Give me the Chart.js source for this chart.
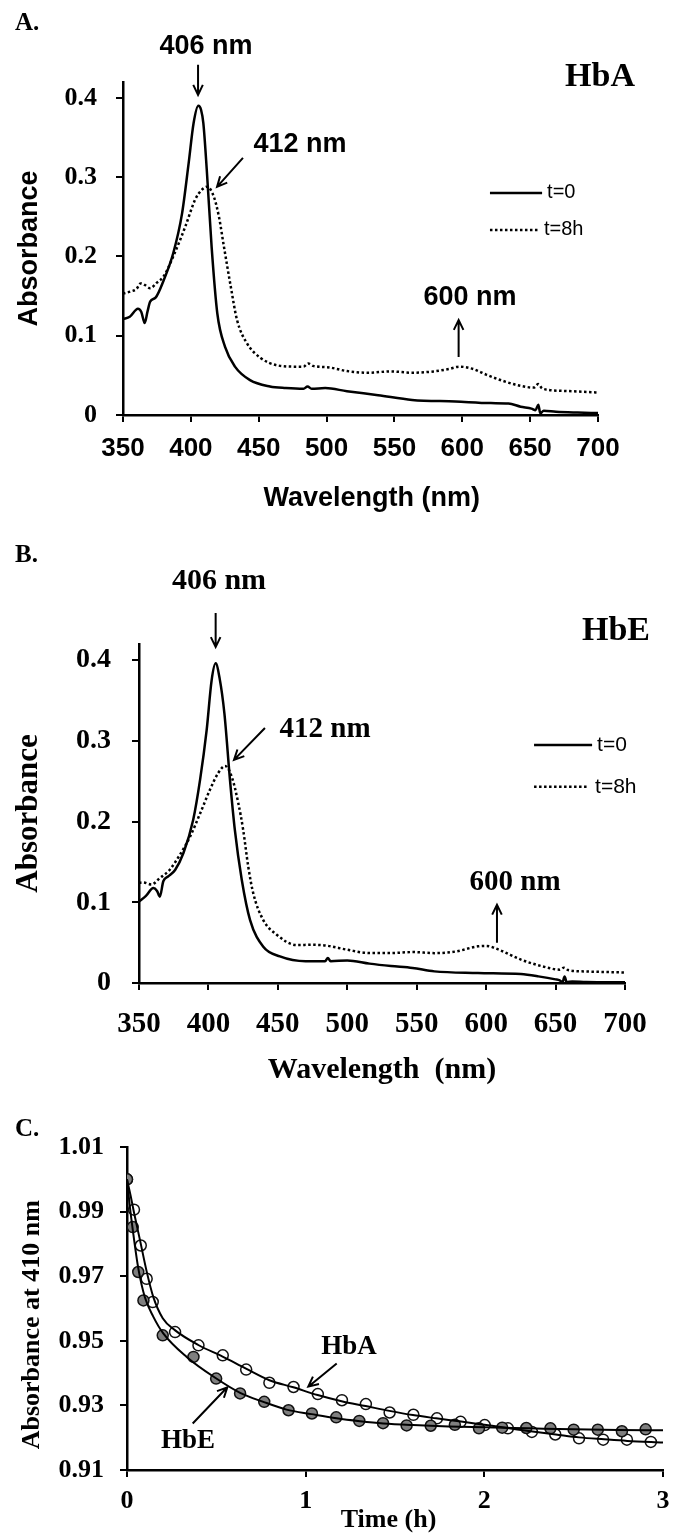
<!DOCTYPE html>
<html>
<head>
<meta charset="utf-8">
<script src="https://cdn.jsdelivr.net/npm/chart.js@4.4.0/dist/chart.umd.min.js"></script>
<style>
  body { margin: 0; background: #fff; }
  #wrap { position: relative; width: 683px; height: 1536px; }
  canvas { position: absolute; left: 0; }
</style>
</head>
<body>
<div id="wrap">
  <canvas id="chartA" width="683" height="520" style="top:0px"></canvas>
  <canvas id="chartB" width="683" height="570" style="top:520px"></canvas>
  <canvas id="chartC" width="683" height="446" style="top:1090px"></canvas>
</div>
<script>
// --------------------- DATA ---------------------
// A. HbA spectra
const hbaT0Wl  = [350,355,361,363.5,366,368,370,374,380,387,393.5,398.4,402,405.5,407.5,409.2,411.7,415.3,419.5,425.2,432.5,443.6,458.3,470,483,486,489,499,515,538,563,595,621,634,643,651,654,656,657.5,660,669,685,700];
const hbaT0Abs = [0.121,0.124,0.134,0.130,0.116,0.130,0.143,0.148,0.170,0.204,0.254,0.318,0.368,0.390,0.385,0.368,0.310,0.212,0.128,0.086,0.061,0.044,0.036,0.034,0.033,0.036,0.033,0.034,0.030,0.025,0.019,0.017,0.015,0.0145,0.0105,0.008,0.006,0.013,0.002,0.0055,0.004,0.003,0.0025];
const hbaT8Wl  = [350,356,360,363,366,370,375,380,388.5,396,403,408,412,417,420.7,424.4,429.4,434,441.5,451.4,464,478,483,486.5,490,502,515,531,547,563,579,590,598,608,617.5,630,643,652.7,656,659,675,700];
const hbaT8Abs = [0.153,0.156,0.159,0.166,0.164,0.160,0.167,0.175,0.206,0.238,0.271,0.284,0.288,0.275,0.250,0.212,0.162,0.120,0.090,0.072,0.0625,0.061,0.061,0.065,0.062,0.060,0.0554,0.0533,0.055,0.0533,0.055,0.058,0.061,0.058,0.051,0.043,0.0367,0.0346,0.039,0.0333,0.0304,0.0283];

// B. HbE spectra
const hbeT0Wl  = [350,355,360.3,363,365,367.5,371,376,382,389,394,398.7,402.3,405.2,408,411.5,415.5,419,424,430,439.5,451.5,470,484,486,488,500,516,531.5,547,562.7,594,625,637.6,650,653,655,656.5,658,662,672,700];
const hbeT0Abs = [0.101,0.108,0.1176,0.114,0.107,0.126,0.132,0.140,0.161,0.202,0.252,0.313,0.375,0.396,0.378,0.334,0.252,0.190,0.128,0.078,0.045,0.033,0.027,0.027,0.031,0.027,0.028,0.024,0.021,0.0186,0.0144,0.0124,0.011,0.0082,0.0045,0.0033,0.001,0.008,0.001,0.002,0.0012,0.0008];
const hbeT8Wl  = [350,353,359,365,372,379.5,386.7,394,401,407,412,416.7,421.5,425,428.7,432.3,439.5,449,463.5,475,485,500,516,531.5,547,563,578,594,600,609.5,625,640.7,653,656,659,672,700];
const hbeT8Abs = [0.124,0.1245,0.122,0.130,0.140,0.159,0.181,0.210,0.239,0.260,0.269,0.256,0.223,0.190,0.144,0.111,0.078,0.060,0.047,0.0474,0.0463,0.0412,0.0371,0.0371,0.0383,0.037,0.039,0.0454,0.046,0.041,0.029,0.0206,0.0165,0.019,0.016,0.0143,0.013];

// C. absorbance at 410 nm vs time
const hbaTime = [0,0.039,0.077,0.110,0.144,0.269,0.40,0.536,0.667,0.797,0.932,1.068,1.203,1.337,1.47,1.603,1.735,1.867,2.002,2.132,2.266,2.397,2.53,2.665,2.798,2.932];
const hbaAbs  = [1.000,0.9906,0.9795,0.9692,0.962,0.9527,0.9486,0.9455,0.9411,0.937,0.9357,0.9335,0.9316,0.9304,0.9278,0.9271,0.926,0.9249,0.9239,0.9229,0.9218,0.921,0.9198,0.9194,0.9194,0.9187];
const hbeTime = [0,0.032,0.063,0.092,0.2,0.372,0.499,0.633,0.768,0.904,1.035,1.171,1.30,1.433,1.565,1.70,1.835,1.97,2.10,2.235,2.37,2.50,2.635,2.77,2.903];
const hbeAbs  = [1.000,0.9852,0.9713,0.9625,0.9517,0.945,0.9383,0.9337,0.9311,0.9285,0.9275,0.9263,0.9252,0.9245,0.9238,0.9237,0.924,0.9229,0.9231,0.923,0.9229,0.9225,0.9225,0.922,0.9226];

// fitted curves
const hbaFitTime = [0,0.02,0.04,0.073,0.11,0.147,0.2,0.268,0.399,0.535,0.666,0.797,0.931,1.067,1.201,1.336,1.469,1.6,1.73,1.87,2.0,2.13,2.27,2.4,2.53,2.67,2.8,3.0];
const hbaFitAbs  = [1.000,0.995,0.9895,0.9811,0.9715,0.9636,0.957,0.9533,0.9487,0.9451,0.9414,0.9378,0.9356,0.9332,0.9313,0.9298,0.9283,0.927,0.926,0.925,0.924,0.923,0.9219,0.921,0.9201,0.9195,0.919,0.9185];
const hbeFitTime = [0,0.015,0.032,0.063,0.1,0.147,0.203,0.334,0.498,0.633,0.763,0.893,1.033,1.173,1.304,1.434,1.6,1.8,2.0,2.25,2.5,2.75,3.0];
const hbeFitAbs  = [1.000,0.992,0.9845,0.9725,0.9635,0.9575,0.9523,0.945,0.9384,0.9339,0.9311,0.9287,0.9273,0.926,0.9251,0.9244,0.9239,0.9235,0.9232,0.9229,0.9226,0.9224,0.9223];

const seriesLabels = ["t=0", "t=8h"];

// --------------------- HELPERS ---------------------
const SANS = "'Liberation Sans', Arial, sans-serif";
const SERIF = "'Liberation Serif', 'Times New Roman', serif";

function pairs(xs, ys) {
  return xs.map((x, i) => ({ x: x, y: ys[i] }));
}

// draws texts, arrows and the small legends on top of the chart
const panelText = {
  id: "panelText",
  afterDraw(chart, args, opts) {
    const ctx = chart.ctx;
    const sx = chart.scales.x, sy = chart.scales.y;
    const P = (p) => [sx.getPixelForValue(p[0]), sy.getPixelForValue(p[1])];
    ctx.save();
    ctx.fillStyle = "#000";
    ctx.strokeStyle = "#000";
    (opts.items || []).forEach((it) => {
      if (it.kind === "text") {
        const xy = it.px ? it.px : P(it.at);
        ctx.font = it.font;
        ctx.textAlign = it.align || "center";
        ctx.textBaseline = "middle";
        ctx.fillText(it.text, xy[0], xy[1]);
      } else if (it.kind === "arrow") {
        const a = P(it.from), b = P(it.to);
        ctx.lineWidth = 2;
        ctx.setLineDash([]);
        ctx.beginPath();
        ctx.moveTo(a[0], a[1]);
        ctx.lineTo(b[0], b[1]);
        const ang = Math.atan2(b[1] - a[1], b[0] - a[0]);
        const hl = 11, hw = 0.45;
        ctx.moveTo(b[0] - hl * Math.cos(ang - hw), b[1] - hl * Math.sin(ang - hw));
        ctx.lineTo(b[0], b[1]);
        ctx.lineTo(b[0] - hl * Math.cos(ang + hw), b[1] - hl * Math.sin(ang + hw));
        ctx.stroke();
      } else if (it.kind === "legend") {
        const ds = chart.data.datasets[it.dataset];
        const a = P(it.from), b = P(it.to);
        ctx.lineWidth = ds.borderWidth;
        ctx.setLineDash(ds.borderDash || []);
        ctx.beginPath();
        ctx.moveTo(a[0], a[1]);
        ctx.lineTo(b[0], a[1]);
        ctx.stroke();
        ctx.setLineDash([]);
        ctx.font = it.font;
        ctx.textAlign = "left";
        ctx.textBaseline = "middle";
        ctx.fillText(ds.label, b[0] + it.gap, a[1]);
      }
    });
    ctx.restore();
  }
};

function fixedBox(width, height) {
  return function (scale) {
    if (width !== undefined) scale.width = width;
    if (height !== undefined) scale.height = height;
  };
}

// --------------------- A. HbA ---------------------
new Chart(document.getElementById("chartA"), {
  type: "line",
  data: {
    datasets: [
      {
        label: seriesLabels[0],
        data: pairs(hbaT0Wl, hbaT0Abs),
        borderColor: "#000",
        borderWidth: 2.5,
        pointRadius: 0,
        cubicInterpolationMode: "monotone",
      },
      {
        label: seriesLabels[1],
        data: pairs(hbaT8Wl, hbaT8Abs),
        borderColor: "#000",
        borderWidth: 2.5,
        borderDash: [2.5, 2.5],
        pointRadius: 0,
        cubicInterpolationMode: "monotone",
      },
    ],
  },
  options: {
    responsive: false,
    animation: false,
    layout: { padding: { left: 0, top: 82, right: 85, bottom: 0 } },
    plugins: {
      legend: { display: false },
      tooltip: { enabled: false },
      panelText: {
        items: [
          { kind: "text", px: [15, 24], text: "A.", font: "bold 25px " + SERIF, align: "left" },
          { kind: "text", at: [411.2, 0.4644], text: "406 nm", font: "bold 27px " + SANS },
          { kind: "arrow", from: [405.3, 0.4416], to: [405.3, 0.4038] },
          { kind: "text", at: [701.5, 0.4265], text: "HbA", font: "bold 34px " + SERIF },
          { kind: "text", at: [480.4, 0.3407], text: "412 nm", font: "bold 27px " + SANS },
          { kind: "arrow", from: [438.4, 0.3243], to: [419.3, 0.2877] },
          { kind: "legend", dataset: 0, from: [620.4, 0.2801], to: [658.8, 0.2801], gap: 5, font: "20px " + SANS },
          { kind: "legend", dataset: 1, from: [620.4, 0.2334], to: [655.8, 0.2334], gap: 6, font: "20px " + SANS },
          { kind: "text", at: [605.7, 0.1476], text: "600 nm", font: "bold 27px " + SANS },
          { kind: "arrow", from: [597.3, 0.0732], to: [597.3, 0.1199] },
        ],
      },
    },
    scales: {
      x: {
        type: "linear",
        min: 350,
        max: 700,
        afterFit: fixedBox(undefined, 105),
        border: { display: true, color: "#000", width: 2.5 },
        grid: { drawOnChartArea: false, drawTicks: true, tickLength: 7, color: "#000", lineWidth: 2 },
        ticks: { stepSize: 50, color: "#000", padding: 11, font: { family: SANS, size: 26, weight: "bold" } },
        title: { display: true, text: "   Wavelength (nm)", color: "#000", padding: { top: 0, bottom: 5 }, font: { family: SANS, size: 27, weight: "bold" } },
      },
      y: {
        min: 0,
        max: 0.42,
        afterFit: fixedBox(123),
        border: { display: true, color: "#000", width: 2.5 },
        grid: { drawOnChartArea: false, drawTicks: true, tickLength: 7, color: "#000", lineWidth: 2 },
        ticks: { stepSize: 0.1, includeBounds: false, color: "#000", padding: 19, font: { family: SERIF, size: 26, weight: "bold" } },
        title: { display: true, text: "Absorbance", color: "#000", padding: { top: 13, bottom: 0 }, font: { family: SANS, size: 27, weight: "bold" } },
      },
    },
  },
  plugins: [panelText],
});

// --------------------- B. HbE ---------------------
new Chart(document.getElementById("chartB"), {
  type: "line",
  data: {
    datasets: [
      {
        label: seriesLabels[0],
        data: pairs(hbeT0Wl, hbeT0Abs),
        borderColor: "#000",
        borderWidth: 2.5,
        pointRadius: 0,
        cubicInterpolationMode: "monotone",
      },
      {
        label: seriesLabels[1],
        data: pairs(hbeT8Wl, hbeT8Abs),
        borderColor: "#000",
        borderWidth: 2.5,
        borderDash: [2.5, 2.5],
        pointRadius: 0,
        cubicInterpolationMode: "monotone",
      },
    ],
  },
  options: {
    responsive: false,
    animation: false,
    layout: { padding: { left: 0, top: 124, right: 58, bottom: 0 } },
    plugins: {
      legend: { display: false },
      tooltip: { enabled: false },
      panelText: {
        items: [
          { kind: "text", px: [15, 36], text: "B.", font: "bold 25px " + SERIF, align: "left" },
          { kind: "text", at: [407.6, 0.498], text: "406 nm", font: "bold 30px " + SERIF },
          { kind: "arrow", from: [405.2, 0.4583], to: [405.2, 0.4162] },
          { kind: "text", at: [693.5, 0.436], text: "HbE", font: "bold 34px " + SERIF },
          { kind: "text", at: [484, 0.3135], text: "412 nm", font: "bold 29px " + SERIF },
          { kind: "arrow", from: [440.7, 0.316], to: [418.4, 0.2764] },
          { kind: "legend", dataset: 0, from: [634.5, 0.2949], to: [676.3, 0.2949], gap: 5, font: "21px " + SANS },
          { kind: "legend", dataset: 1, from: [634.5, 0.243], to: [673.4, 0.243], gap: 7, font: "21px " + SANS },
          { kind: "text", at: [620.8, 0.1242], text: "600 nm", font: "bold 29px " + SERIF },
          { kind: "arrow", from: [607.8, 0.0499], to: [607.8, 0.097] },
        ],
      },
    },
    scales: {
      x: {
        type: "linear",
        min: 350,
        max: 700,
        afterFit: fixedBox(undefined, 107),
        border: { display: true, color: "#000", width: 2.5 },
        grid: { drawOnChartArea: false, drawTicks: true, tickLength: 7, color: "#000", lineWidth: 2 },
        ticks: { stepSize: 50, color: "#000", padding: 17, font: { family: SERIF, size: 29, weight: "bold" } },
        title: { display: true, text: "Wavelength  (nm)", color: "#000", padding: { top: 0, bottom: 2 }, font: { family: SERIF, size: 30, weight: "bold" } },
      },
      y: {
        min: 0,
        max: 0.42,
        afterFit: fixedBox(139),
        border: { display: true, color: "#000", width: 2.5 },
        grid: { drawOnChartArea: false, drawTicks: true, tickLength: 7, color: "#000", lineWidth: 2 },
        ticks: { stepSize: 0.1, includeBounds: false, color: "#000", padding: 21, font: { family: SERIF, size: 28, weight: "bold" } },
        title: { display: true, text: "Absorbance", color: "#000", padding: { top: 10, bottom: 0 }, font: { family: SERIF, size: 31, weight: "bold" } },
      },
    },
  },
  plugins: [panelText],
});

// --------------------- C. Absorbance at 410 nm ---------------------
new Chart(document.getElementById("chartC"), {
  type: "line",
  data: {
    datasets: [
      {
        label: "HbE fit",
        data: pairs(hbeFitTime, hbeFitAbs),
        borderColor: "#000",
        borderWidth: 2,
        pointRadius: 0,
        cubicInterpolationMode: "monotone",
        order: 0,
      },
      {
        label: "HbA fit",
        data: pairs(hbaFitTime, hbaFitAbs),
        borderColor: "#000",
        borderWidth: 2,
        pointRadius: 0,
        cubicInterpolationMode: "monotone",
        order: 0,
      },
      {
        label: "HbE",
        data: pairs(hbeTime, hbeAbs),
        showLine: false,
        pointRadius: 5.5,
        pointBorderWidth: 1.5,
        pointBackgroundColor: "#7f7f7f",
        pointBorderColor: "#111",
        order: 1,
      },
      {
        label: "HbA",
        data: pairs(hbaTime, hbaAbs),
        showLine: false,
        pointRadius: 5.5,
        pointBorderWidth: 1.5,
        pointBackgroundColor: "#fff",
        pointBorderColor: "#111",
        order: 2,
      },
    ],
  },
  options: {
    responsive: false,
    animation: false,
    layout: { padding: { left: 0, top: 57, right: 20, bottom: 0 } },
    plugins: {
      legend: { display: false },
      tooltip: { enabled: false },
      panelText: {
        items: [
          { kind: "text", px: [15, 40], text: "C.", font: "bold 25px " + SERIF, align: "left" },
          { kind: "text", at: [1.2425, 0.948], text: "HbA", font: "bold 27px " + SERIF },
          { kind: "arrow", from: [1.1737, 0.9430], to: [1.0147, 0.9358] },
          { kind: "text", at: [0.3414, 0.919], text: "HbE", font: "bold 27px " + SERIF },
          { kind: "arrow", from: [0.3677, 0.9244], to: [0.5614, 0.9356] },
        ],
      },
    },
    scales: {
      x: {
        type: "linear",
        min: 0,
        max: 3,
        afterFit: fixedBox(undefined, 66),
        border: { display: true, color: "#000", width: 2.5 },
        grid: { drawOnChartArea: false, drawTicks: true, tickLength: 7, color: "#000", lineWidth: 2 },
        ticks: { stepSize: 1, color: "#000", padding: 9, font: { family: SERIF, size: 26, weight: "bold" } },
        title: { display: true, text: "Time (h)  ", color: "#000", padding: { top: 0, bottom: 0 }, font: { family: SERIF, size: 26, weight: "bold" } },
      },
      y: {
        min: 0.91,
        max: 1.01,
        afterFit: fixedBox(127),
        border: { display: true, color: "#000", width: 2.5 },
        grid: { drawOnChartArea: false, drawTicks: true, tickLength: 7, color: "#000", lineWidth: 2 },
        ticks: { stepSize: 0.02, color: "#000", padding: 16, font: { family: SERIF, size: 26, weight: "bold" } },
        title: { display: true, text: "Absorbance at 410 nm     ", color: "#000", padding: { top: 17, bottom: 0 }, font: { family: SERIF, size: 26, weight: "bold" } },
      },
    },
  },
  plugins: [panelText],
});
</script>
</body>
</html>
